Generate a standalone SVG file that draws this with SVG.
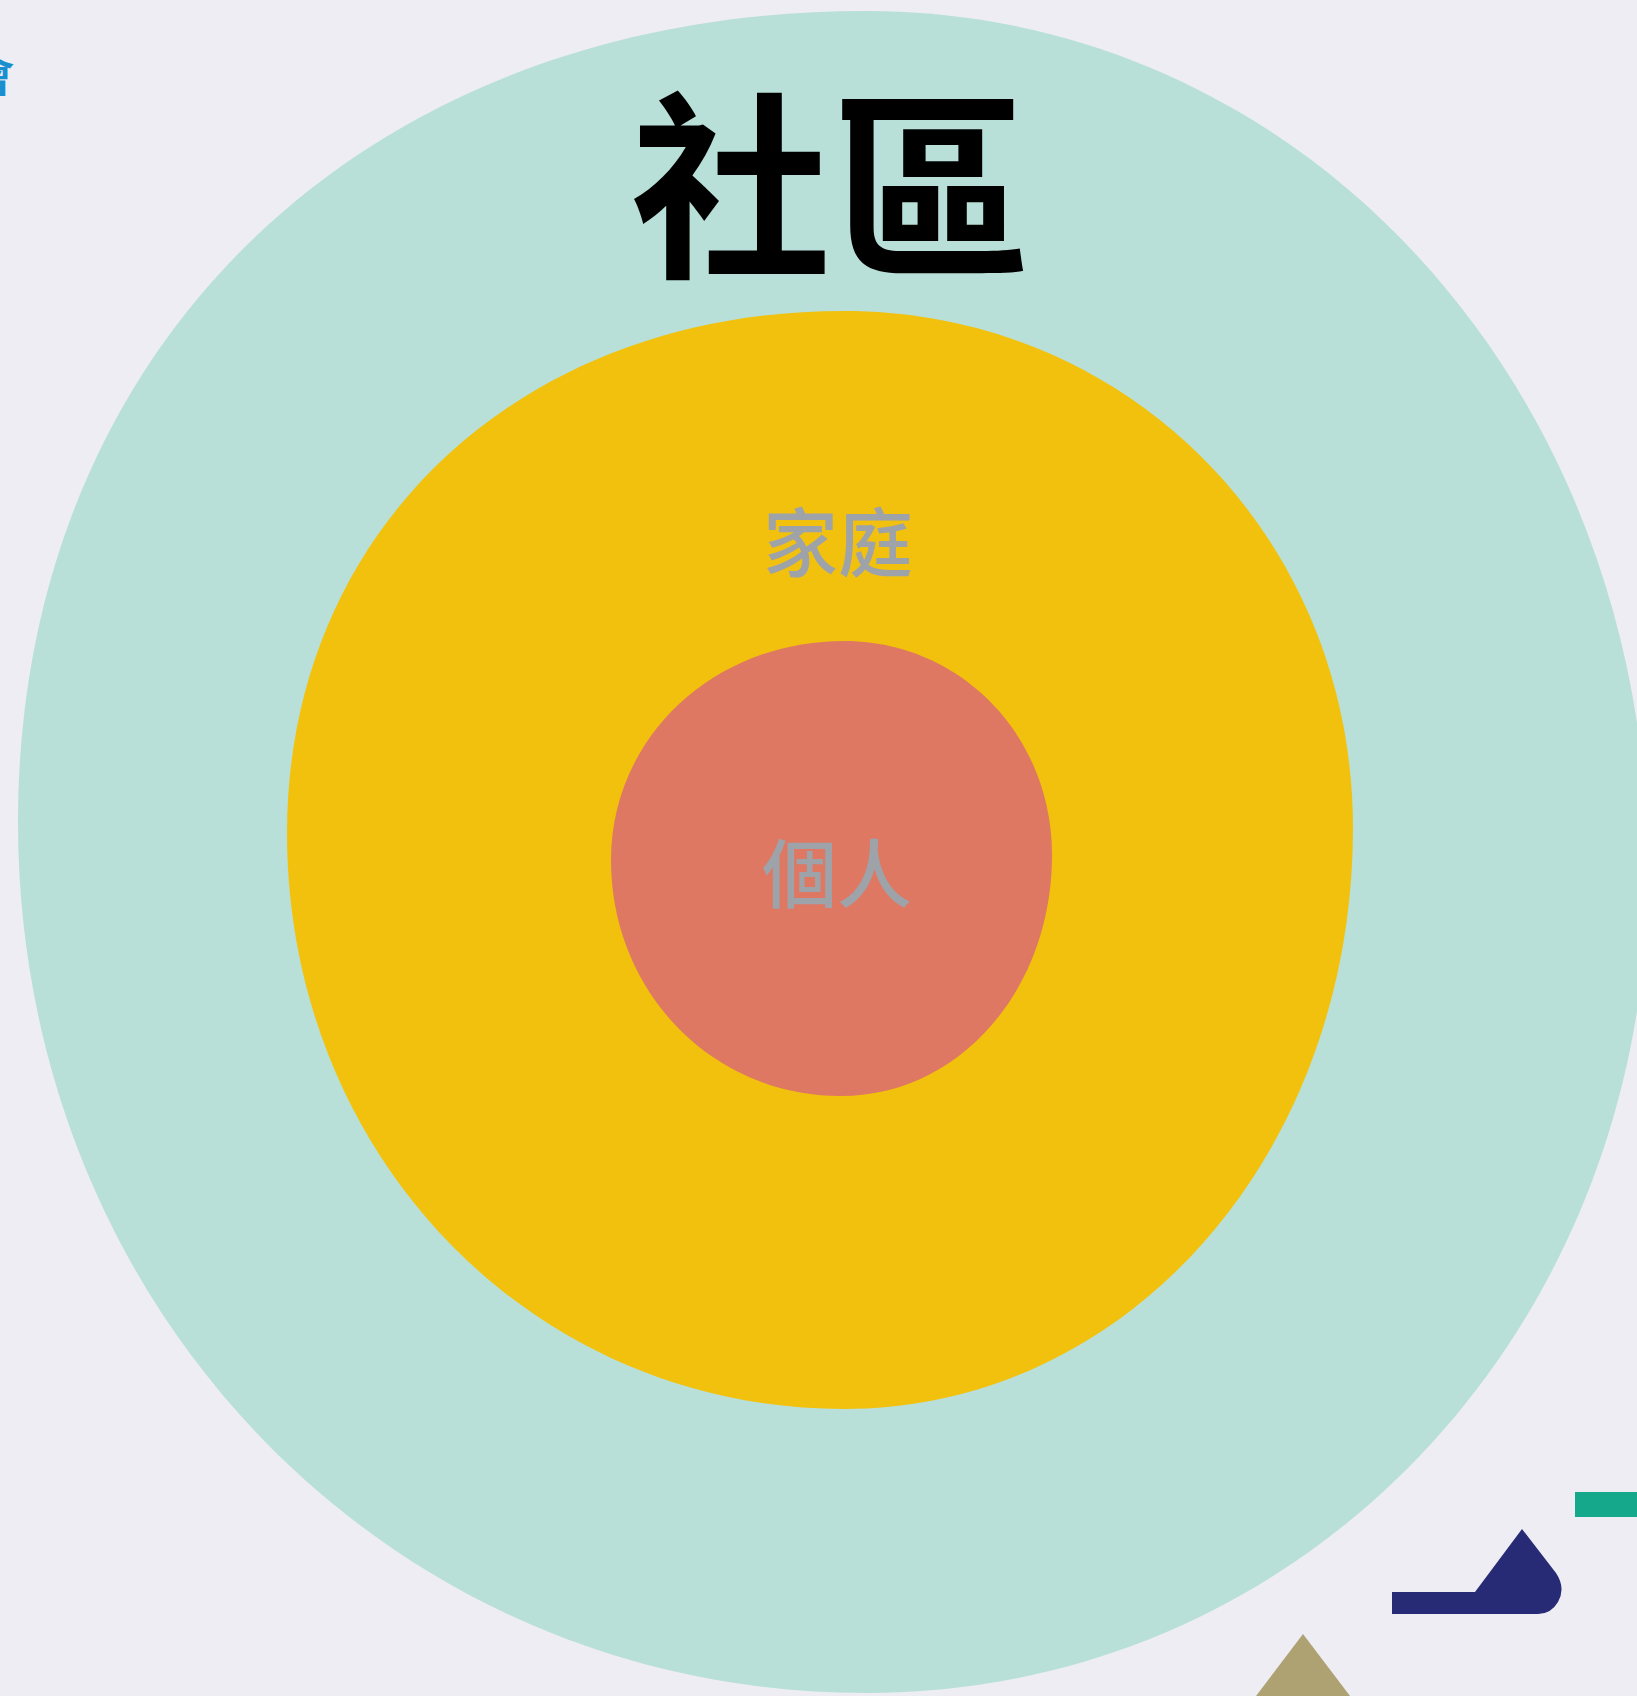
<svg xmlns="http://www.w3.org/2000/svg" width="1637" height="1696" viewBox="0 0 1637 1696">
<style>
.cjk{font-family:"Noto Sans CJK TC","Noto Sans CJK SC",sans-serif;text-anchor:middle}
.title{font-size:200px;font-weight:700;fill:#000}
.lbl{font-size:75px;font-weight:500;fill:#9ea2a9}
</style>
<rect width="1637" height="1696" fill="#eeedf3"/>
<g id="decor">
<text x="-30" y="92" font-family="Noto Sans CJK TC, sans-serif" font-size="44" font-weight="700" fill="#1a8fd0">會</text>
<rect x="1575" y="1492" width="70" height="25" fill="#16a88a"/>
<path d="M1392,1592 L1475,1592 L1522,1529 L1556,1573 Q1566,1588 1558,1602 Q1551,1614 1538,1614 L1392,1614 Z" fill="#272a74"/>
<path d="M1303,1634 L1350,1696 L1256,1696 Z" fill="#aea272"/>
</g>
<g id="community">
<path fill="#b8e0d9" d="M866,11 C366,11 18,345 18,822 C18,1310 391,1693 866,1693 C1304,1693 1648,1331 1648,870 C1648,389 1304,11 866,11 Z"/>
<text class="cjk title" x="831" y="262">社區</text>
</g>
<g id="family">
<path fill="#f2c10e" d="M844,311 C520,311 287,530 287,833 C287,1156 532,1409 844,1409 C1129,1409 1353,1153 1353,828 C1353,538 1129,311 844,311 Z"/>
<text class="cjk lbl" x="838" y="571">家庭</text>
</g>
<g id="individual">
<path fill="#de7862" d="M844,641 C714,641 611,737 611,860 C611,992 712,1096 841,1096 C959,1096 1052,990 1052,855 C1052,735 960,641 844,641 Z"/>
<text class="cjk lbl" x="837" y="902">個人</text>
</g>
<g id="connectors"/>
</svg>
